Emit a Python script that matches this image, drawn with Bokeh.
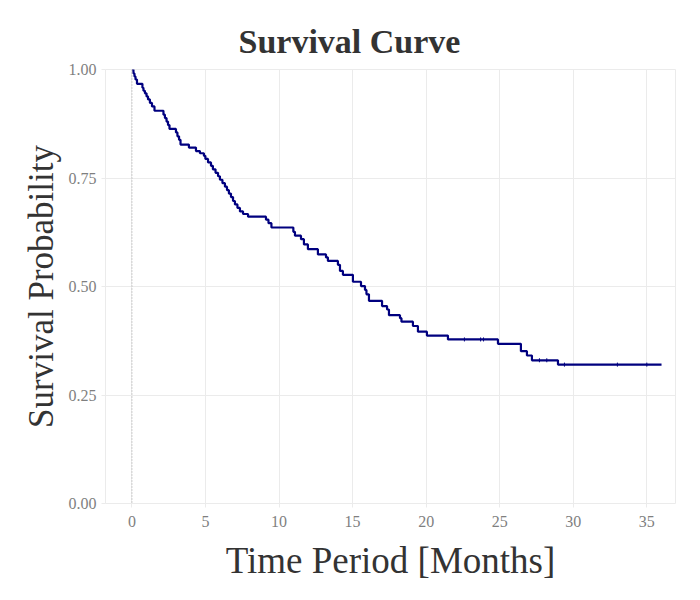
from bokeh.plotting import figure
from bokeh.models import Span, Range1d, FixedTicker, NumeralTickFormatter
from bokeh.embed import file_html
from bokeh.resources import INLINE

# Kaplan-Meier estimate: time of each drop (months) and survival after it
months = [0.0, 0.10, 0.17, 0.24, 0.34, 0.71, 0.78, 0.88, 0.99, 1.09, 1.22, 1.36, 1.53,
          2.14, 2.24, 2.35, 2.45, 2.55, 2.99, 3.09, 3.20, 3.30, 3.87, 4.35, 4.62,
          4.89, 4.99, 5.17, 5.37, 5.50, 5.68, 5.85, 5.98, 6.15, 6.32, 6.46, 6.59,
          6.73, 6.87, 7.00, 7.17, 7.34, 7.55, 7.89, 9.11, 9.28, 9.48, 10.97, 11.08,
          11.49, 11.69, 11.96, 12.64, 13.19, 13.32, 14.00, 14.14, 14.34, 15.02,
          15.57, 15.84, 15.94, 16.11, 17.00, 17.34, 17.47, 18.22, 18.32, 19.10,
          19.44, 20.05, 21.48, 24.88, 26.44, 26.85, 27.19, 28.96, 36.0]
survival = [1.000, 0.991, 0.984, 0.977, 0.967, 0.958, 0.951, 0.945, 0.938, 0.931, 0.923,
            0.915, 0.905, 0.896, 0.888, 0.880, 0.872, 0.863, 0.855, 0.846, 0.838,
            0.827, 0.820, 0.812, 0.807, 0.801, 0.794, 0.786, 0.778, 0.770, 0.762,
            0.754, 0.746, 0.738, 0.730, 0.722, 0.714, 0.706, 0.697, 0.689, 0.681,
            0.673, 0.667, 0.661, 0.654, 0.646, 0.636, 0.626, 0.617, 0.609, 0.597,
            0.586, 0.574, 0.567, 0.559, 0.550, 0.536, 0.527, 0.511, 0.501, 0.492,
            0.482, 0.467, 0.455, 0.447, 0.434, 0.427, 0.419, 0.409, 0.396, 0.387,
            0.378, 0.368, 0.351, 0.341, 0.330, 0.320, 0.320]

# censored observations on the later plateaus
censor_months = [22.6, 23.7, 23.9, 27.7, 28.2, 29.4, 33.0, 35.0]
censor_surv = [0.378, 0.378, 0.378, 0.330, 0.330, 0.320, 0.320, 0.320]

x_ticks = [0, 5, 10, 15, 20, 25, 30, 35]
y_ticks = [0.0, 0.25, 0.5, 0.75, 1.0]

SERIF = "Liberation Serif"
GRID = "#ebebeb"

p = figure(width=700, height=600, frame_width=570, frame_height=434,
           output_backend="svg", toolbar_location=None,
           x_range=Range1d(-1.8, 36.95), y_range=Range1d(0.0, 1.0),
           min_border_left=105, min_border_right=25,
           min_border_top=69, min_border_bottom=97,
           title="Survival Curve")

p.title.align = "left"
p.title.offset = 133
p.title.text_font = SERIF
p.title.text_font_size = "34px"
p.title.text_font_style = "bold"
p.title.text_color = "#333333"
p.title.standoff = 20

p.background_fill_color = "white"
p.border_fill_color = "white"
p.outline_line_color = GRID
p.outline_line_width = 1

p.xgrid.grid_line_color = GRID
p.ygrid.grid_line_color = GRID
p.xgrid.ticker = FixedTicker(ticks=x_ticks)
p.ygrid.ticker = FixedTicker(ticks=y_ticks)

p.xaxis.ticker = FixedTicker(ticks=x_ticks)
p.yaxis.ticker = FixedTicker(ticks=y_ticks)
p.yaxis.formatter = NumeralTickFormatter(format="0.00")

for ax in (p.xaxis[0], p.yaxis[0]):
    ax.axis_line_color = None
    ax.major_tick_line_color = GRID
    ax.major_tick_in = 0
    ax.major_tick_out = 4
    ax.minor_tick_line_color = None
    ax.major_label_text_font = SERIF
    ax.major_label_text_font_size = "16px"
    ax.major_label_text_color = "#7f7f7f"
    ax.axis_label_text_font = SERIF
    ax.axis_label_text_font_style = "normal"
    ax.axis_label_text_color = "#333333"

p.xaxis.axis_label = "Time Period [Months]"
p.xaxis.axis_label_text_font_size = "37px"
p.xaxis.major_label_standoff = 8
p.xaxis.axis_label_standoff = 10
p.yaxis.axis_label = "Survival Probability"
p.yaxis.axis_label_text_font_size = "35px"
p.yaxis.major_label_standoff = 5
p.yaxis.axis_label_standoff = 5

# reference line at time zero
p.add_layout(Span(location=0, dimension="height", line_color="#a8a8a8",
                  line_dash="1 2", line_width=1))

p.step(months, survival, mode="after", line_color="#00007f", line_width=2.2)
p.scatter(censor_months, censor_surv, marker="dash", angle=1.5708, size=4,
          line_color="#00007f", line_width=1)

open("out.html", "w").write(file_html(p, INLINE))
